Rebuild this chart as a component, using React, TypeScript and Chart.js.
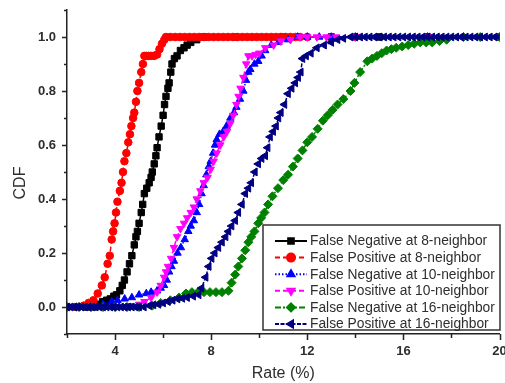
import React, { useEffect, useRef } from 'react';
import { Chart, registerables } from 'chart.js';
import { drawPoint } from 'chart.js/helpers';
Chart.register(...registerables);

// ---- data (x = rate %, y = CDF) ----
const seriesLabels = [
  'False Negative at 8-neighbor',
  'False Positive at 8-neighbor',
  'False Negative at 10-neighbor',
  'False Positive at 10-neighbor',
  'False Negative at 16-neighbor',
  'False Positive at 16-neighbor',
];

const fn8: [number, number][] = [
  [2, 0], [2.4, 0], [2.8, 0], [3.1, 0], [3.3, 0.01], [3.48, 0.02], [3.65, 0.025], [3.8, 0.03], [3.95, 0.04],
  [4.06, 0.045], [4.2, 0.06], [4.3, 0.08], [4.39, 0.1], [4.5, 0.13], [4.6, 0.16], [4.7, 0.19], [4.8, 0.23],
  [4.87, 0.26], [4.93, 0.28], [5.0, 0.31], [5.09, 0.35], [5.15, 0.38], [5.22, 0.42], [5.32, 0.44], [5.42, 0.46],
  [5.5, 0.48], [5.55, 0.5], [5.63, 0.53], [5.7, 0.56], [5.75, 0.59], [5.83, 0.63], [5.92, 0.67], [6.0, 0.71],
  [6.06, 0.75], [6.12, 0.78], [6.2, 0.81], [6.25, 0.83], [6.32, 0.87], [6.37, 0.9], [6.47, 0.92], [6.58, 0.93],
  [6.72, 0.95], [6.87, 0.96], [7.0, 0.97], [7.15, 0.98], [7.4, 0.99], [7.7, 1], [9, 1], [11, 1], [13, 1],
  [15, 1], [17, 1], [20, 1],
];

const fp8: [number, number][] = [
  [2, 0], [2.4, 0], [2.7, 0.005], [2.9, 0.015], [3.1, 0.025], [3.28, 0.05], [3.45, 0.08], [3.57, 0.11],
  [3.69, 0.16], [3.78, 0.19], [3.86, 0.25], [3.92, 0.28], [3.98, 0.31], [4.04, 0.35], [4.1, 0.39], [4.2, 0.43],
  [4.27, 0.46], [4.33, 0.5], [4.39, 0.54], [4.47, 0.57], [4.55, 0.61], [4.62, 0.64], [4.68, 0.67], [4.75, 0.7],
  [4.8, 0.72], [4.87, 0.76], [4.93, 0.8], [5.0, 0.83], [5.09, 0.87], [5.16, 0.9], [5.22, 0.93], [5.3, 0.93],
  [5.4, 0.93], [5.5, 0.93], [5.62, 0.93], [5.75, 0.935], [5.85, 0.955], [5.95, 0.975], [6.05, 0.99], [6.12, 1],
  [6.3, 1], [6.5, 1], [6.7, 1], [6.9, 1], [7.1, 1], [7.3, 1], [7.5, 1], [7.7, 1], [7.9, 1], [8.1, 1], [8.3, 1],
  [8.5, 1], [8.7, 1], [8.9, 1], [9.1, 1], [9.3, 1], [9.5, 1], [9.7, 1], [9.9, 1], [10.1, 1], [10.3, 1],
  [10.5, 1], [10.7, 1], [10.9, 1], [11.1, 1], [11.3, 1], [11.5, 1], [11.7, 1], [12, 1], [14, 1], [17, 1], [20, 1],
];

const fn10: [number, number][] = [
  [2, 0], [2.5, 0], [3, 0], [3.5, 0.01], [3.86, 0.02], [4.1, 0.025], [4.4, 0.03], [4.7, 0.035], [5.0, 0.045],
  [5.3, 0.05], [5.5, 0.055], [5.75, 0.06], [5.9, 0.07], [6.04, 0.08], [6.15, 0.1], [6.25, 0.13], [6.35, 0.15],
  [6.45, 0.17], [6.6, 0.2], [6.74, 0.22], [6.9, 0.25], [7.05, 0.28], [7.15, 0.3], [7.28, 0.32], [7.4, 0.35],
  [7.5, 0.38], [7.6, 0.42], [7.69, 0.45], [7.8, 0.49], [7.9, 0.52], [7.98, 0.54], [8.08, 0.57], [8.16, 0.6],
  [8.23, 0.62], [8.35, 0.64], [8.5, 0.65], [8.64, 0.67], [8.8, 0.7], [8.95, 0.72], [9.05, 0.74], [9.2, 0.77],
  [9.34, 0.8], [9.45, 0.84], [9.55, 0.87], [9.63, 0.88], [9.8, 0.9], [9.96, 0.91], [10.1, 0.93], [10.25, 0.95],
  [10.5, 0.97], [10.8, 0.98], [11.2, 0.99], [11.6, 1], [12, 1], [12.5, 1], [13, 1], [14, 1], [17, 1], [20, 1],
];

const fp10: [number, number][] = [
  [2, 0], [3, 0], [4, 0], [4.6, 0.005], [5, 0.01], [5.22, 0.02], [5.5, 0.035], [5.75, 0.055], [5.9, 0.08],
  [6.04, 0.11], [6.12, 0.13], [6.2, 0.15], [6.33, 0.18], [6.45, 0.22], [6.58, 0.26], [6.72, 0.29], [6.87, 0.31],
  [7, 0.33], [7.15, 0.35], [7.28, 0.37], [7.4, 0.4], [7.55, 0.43], [7.69, 0.46], [7.85, 0.48], [7.98, 0.51],
  [8.1, 0.54], [8.23, 0.57], [8.38, 0.6], [8.52, 0.63], [8.66, 0.65], [8.8, 0.68], [8.92, 0.71], [9.05, 0.75],
  [9.14, 0.78], [9.22, 0.81], [9.34, 0.85], [9.46, 0.9], [9.55, 0.93], [9.7, 0.93], [9.85, 0.935], [10, 0.94],
  [10.25, 0.96], [10.6, 0.97], [10.9, 0.985], [11.3, 0.99], [11.7, 1], [12, 1], [12.4, 1], [12.8, 1],
  [13.2, 1], [14, 1], [17, 1], [20, 1],
];

const fn16: [number, number][] = [
  [2, 0], [2.5, 0], [3, 0], [3.5, 0], [4, 0], [4.5, 0], [5, 0], [5.55, 0.005], [5.9, 0.015], [6.3, 0.025],
  [6.66, 0.035], [6.95, 0.05], [7.2, 0.055], [7.45, 0.055], [7.7, 0.055], [7.95, 0.055], [8.2, 0.055],
  [8.45, 0.055], [8.72, 0.06], [8.85, 0.09], [9.0, 0.12], [9.13, 0.15], [9.28, 0.18], [9.42, 0.21],
  [9.55, 0.24], [9.67, 0.26], [9.8, 0.28], [9.96, 0.31], [10.08, 0.33], [10.22, 0.35], [10.37, 0.38],
  [10.55, 0.41], [10.78, 0.44], [11.0, 0.47], [11.2, 0.49], [11.4, 0.52], [11.6, 0.55], [11.8, 0.58],
  [12.0, 0.61], [12.2, 0.63], [12.43, 0.66], [12.65, 0.69], [12.85, 0.71], [13.05, 0.73], [13.26, 0.75],
  [13.5, 0.77], [13.8, 0.8], [13.96, 0.83], [14.2, 0.87], [14.5, 0.91], [14.7, 0.92], [14.9, 0.93],
  [15.1, 0.94], [15.3, 0.95], [15.5, 0.955], [15.7, 0.96], [15.95, 0.965], [16.2, 0.97], [16.45, 0.975],
  [16.7, 0.98], [16.95, 0.98], [17.2, 0.98], [17.5, 0.985], [17.8, 0.99], [18.5, 1], [19.2, 1], [20, 1],
];

const fp16: [number, number][] = [
  [2, 0], [2.15, 0], [2.3, 0], [2.45, 0], [2.6, 0], [2.75, 0], [2.9, 0], [3.05, 0], [3.2, 0], [3.35, 0],
  [3.5, 0], [3.65, 0], [3.8, 0], [3.95, 0], [4.1, 0], [4.25, 0], [4.4, 0], [4.55, 0], [4.7, 0], [4.85, 0],
  [5.0, 0], [5.2, 0], [5.42, 0.005], [5.6, 0.008], [5.8, 0.01], [6.0, 0.015], [6.2, 0.02], [6.4, 0.025],
  [6.6, 0.03], [6.8, 0.032], [7.0, 0.035], [7.25, 0.04], [7.48, 0.045], [7.6, 0.07], [7.77, 0.11],
  [7.9, 0.15], [8.02, 0.18], [8.15, 0.2], [8.3, 0.22], [8.45, 0.24], [8.6, 0.26], [8.72, 0.28], [8.85, 0.3],
  [9.0, 0.32], [9.13, 0.35], [9.28, 0.38], [9.42, 0.42], [9.55, 0.44], [9.67, 0.46], [9.82, 0.5], [9.96, 0.53],
  [10.1, 0.55], [10.25, 0.56], [10.35, 0.59], [10.45, 0.63], [10.58, 0.65], [10.7, 0.67], [10.8, 0.7],
  [10.9, 0.72], [11.05, 0.75], [11.2, 0.79], [11.35, 0.81], [11.5, 0.83], [11.62, 0.85], [11.73, 0.87],
  [11.8, 0.92], [11.95, 0.93], [12.15, 0.94], [12.4, 0.96], [12.7, 0.97], [13.0, 0.98], [13.26, 0.99],
  [13.5, 0.995], [13.8, 1], [14.0, 1], [14.2, 1], [14.4, 1], [14.6, 1], [14.8, 1], [15.0, 1], [15.2, 1],
  [15.4, 1], [15.6, 1], [15.8, 1], [16.0, 1], [16.2, 1], [16.4, 1], [16.6, 1], [16.8, 1], [17.0, 1], [17.2, 1],
  [17.4, 1], [17.6, 1], [17.8, 1], [18.0, 1], [18.2, 1], [18.4, 1], [18.6, 1], [18.8, 1], [19.0, 1], [19.2, 1],
  [19.4, 1], [19.6, 1], [19.8, 1], [20, 1],
];

const seriesData = [fn8, fp8, fn10, fp10, fn16, fp16];
const xMajorTicks = [4, 8, 12, 16, 20];
const yMajorTicks = [0, 0.2, 0.4, 0.6, 0.8, 1.0];

// ---- styles ----
const colors = ['#000000', '#ff0000', '#0000ff', '#ff00ff', '#008000', '#000080'];
const dashes = [[], [5, 3], [1.5, 2], [5, 3], [6, 2, 2, 2], [4, 1.5]];
const shapes = ['rect', 'circle', 'triangle', 'triangle', 'rectRot', 'triangle'];
const rotations = [0, 0, 0, 180, 0, 270];
const radii = [4.5, 3.8, 4.3, 4.3, 4.5, 4.5];

const FONT = '"Liberation Sans", Arial, sans-serif';
const TEXT = '#2e2e2e';

const overlayPlugin = {
  id: 'overlay',
  afterDatasetsDraw(chart: any) {
    const ctx = chart.ctx as CanvasRenderingContext2D;
    ctx.save();
    // legend box
    const bx = 263, by = 225, bw = 237, bh = 105;
    ctx.fillStyle = '#ffffff';
    ctx.fillRect(bx, by, bw, bh);
    ctx.lineWidth = 1.5;
    ctx.strokeStyle = '#333';
    ctx.setLineDash([]);
    ctx.strokeRect(bx, by, bw, bh);
    ctx.font = '13.8px ' + FONT;
    ctx.textBaseline = 'middle';
    ctx.textAlign = 'left';
    seriesLabels.forEach((lab, i) => {
      const y = 241 + i * 16.6;
      ctx.strokeStyle = colors[i];
      ctx.lineWidth = 2;
      ctx.setLineDash(dashes[i]);
      ctx.beginPath();
      ctx.moveTo(275, y);
      ctx.lineTo(307, y);
      ctx.stroke();
      ctx.setLineDash([]);
      ctx.fillStyle = colors[i];
      drawPoint(ctx, { pointStyle: shapes[i], rotation: rotations[i], radius: 4, borderWidth: 1 } as any, 291, y);
      ctx.fillStyle = TEXT;
      ctx.fillText(lab, 310, y + 0.5);
    });
    ctx.restore();
  },
  afterDraw(chart: any) {
    const ctx = chart.ctx as CanvasRenderingContext2D;
    const xs = chart.scales.x;
    const ys = chart.scales.y;
    const area = chart.chartArea;
    ctx.save();
    ctx.strokeStyle = '#222';
    ctx.lineWidth = 1.5;
    ctx.setLineDash([]);
    // x ticks
    for (let v = 2; v <= 20; v += 2) {
      const px = Math.round(xs.getPixelForValue(v)) + 0.5;
      const len = xMajorTicks.includes(v) ? 6 : 4;
      ctx.beginPath();
      ctx.moveTo(px, area.bottom);
      ctx.lineTo(px, area.bottom + len);
      ctx.stroke();
    }
    // y ticks
    for (let k = -1; k <= 11; k++) {
      const v = k / 10;
      const py = Math.round(ys.getPixelForValue(v)) + 0.5;
      const len = k % 2 === 0 ? 5 : 3;
      ctx.beginPath();
      ctx.moveTo(area.left - len, py);
      ctx.lineTo(area.left, py);
      ctx.stroke();
    }
    // axis titles
    ctx.fillStyle = TEXT;
    ctx.font = '16px ' + FONT;
    ctx.textAlign = 'center';
    ctx.textBaseline = 'middle';
    ctx.fillText('Rate (%)', (area.left + area.right) / 2, 374);
    ctx.translate(21, 183);
    ctx.rotate(-Math.PI / 2);
    ctx.fillText('CDF', 0, 0);
    ctx.restore();
  },
};

export default function App() {
  const canvasRef = useRef<HTMLCanvasElement | null>(null);

  useEffect(() => {
    if (!canvasRef.current) return;
    const datasets = seriesData.map((pts, i) => ({
      label: seriesLabels[i],
      data: pts.map(([x, y]) => ({ x, y })),
      borderColor: colors[i],
      backgroundColor: colors[i],
      borderWidth: 1.5,
      borderDash: dashes[i],
      pointStyle: shapes[i],
      pointRotation: rotations[i],
      pointRadius: radii[i],
      pointBorderWidth: 1,
      pointBackgroundColor: colors[i],
      pointBorderColor: colors[i],
      tension: 0,
      fill: false,
      order: seriesData.length - i,
    }));

    const chart = new Chart(canvasRef.current, {
      type: 'line',
      data: { datasets },
      options: {
        animation: false,
        responsive: false,
        devicePixelRatio: 1,
        layout: { padding: { left: 0, right: 3, top: 10, bottom: 0 } },
        plugins: { legend: { display: false }, tooltip: { enabled: false } },
        scales: {
          x: {
            type: 'linear',
            min: 2,
            max: 20,
            afterFit: (s: any) => { s.height = 49; s.paddingLeft = 0; s.paddingRight = 0; },
            grid: { drawOnChartArea: false, drawTicks: false },
            border: { display: true, color: '#222', width: 1.5 },
            ticks: {
              stepSize: 2,
              padding: 10,
              maxRotation: 0,
              autoSkip: false,
              color: TEXT,
              font: { family: FONT, size: 13, weight: 'bold' },
              callback: (v: any) => (xMajorTicks.includes(Number(v)) ? String(v) : ''),
            },
          },
          y: {
            type: 'linear',
            min: -0.1,
            max: 1.1,
            afterFit: (s: any) => { s.width = 67; s.paddingTop = 0; s.paddingBottom = 0; },
            grid: { drawOnChartArea: false, drawTicks: false },
            border: { display: true, color: '#222', width: 1.5 },
            ticks: {
              stepSize: 0.1,
              padding: 11,
              autoSkip: false,
              color: TEXT,
              font: { family: FONT, size: 13, weight: 'bold' },
              callback: (v: any) => {
                const n = Number(v);
                return yMajorTicks.some((t) => Math.abs(t - n) < 1e-6) ? n.toFixed(1) : '';
              },
            },
          },
        },
      },
      plugins: [overlayPlugin],
    });
    return () => chart.destroy();
  }, []);

  return (
    <div style={{ position: 'fixed', left: 0, top: 0, width: 505, height: 383, background: '#fff' }}>
      <canvas ref={canvasRef} width={505} height={383} style={{ display: 'block' }} />
    </div>
  );
}
